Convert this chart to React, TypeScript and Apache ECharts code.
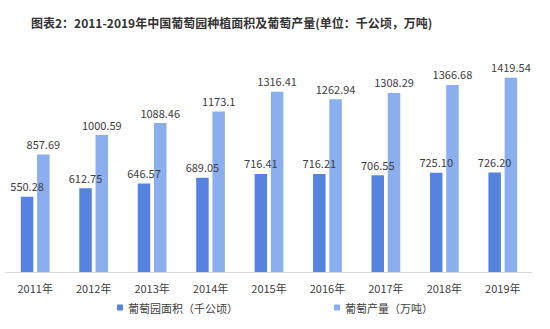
import React, { useEffect, useRef } from "react";
import * as echarts from "echarts";

const years = ["2011年", "2012年", "2013年", "2014年", "2015年", "2016年", "2017年", "2018年", "2019年"];
const areaValues = [550.28, 612.75, 646.57, 689.05, 716.41, 716.21, 706.55, 725.10, 726.20];
const areaLabels = ["550.28", "612.75", "646.57", "689.05", "716.41", "716.21", "706.55", "725.10", "726.20"];
const outputValues = [857.69, 1000.59, 1088.46, 1173.1, 1316.41, 1262.94, 1308.29, 1366.68, 1419.54];
const outputLabels = ["857.69", "1000.59", "1088.46", "1173.1", "1316.41", "1262.94", "1308.29", "1366.68", "1419.54"];
const seriesNames = ["葡萄园面积（千公顷）", "葡萄产量（万吨）"];
const title = "图表2：2011-2019年中国葡萄园种植面积及葡萄产量(单位：千公顷，万吨)";

export default function App() {
  const ref = useRef<HTMLDivElement>(null);
  useEffect(() => {
    if (!ref.current) return;
    const chart = echarts.init(ref.current, undefined, { renderer: "svg" });
    const font = "'Microsoft YaHei', 'Noto Sans CJK SC', sans-serif";
    chart.setOption({
      animation: false,
      title: {
        text: title,
        left: 26,
        top: 11,
        textStyle: { fontSize: 12, fontWeight: "bold", color: "#333", fontFamily: font },
      },
      legend: {
        bottom: 11,
        left: "center",
        itemWidth: 6,
        itemHeight: 6,
        itemGap: 96,
        icon: "rect",
        textStyle: { fontSize: 11, color: "#404040", fontFamily: font },
        data: seriesNames,
      },
      grid: { left: 6, right: 18, top: 53, bottom: 57, containLabel: false },
      xAxis: {
        type: "category",
        data: years,
        axisLine: { lineStyle: { color: "#d9d9d9" } },
        axisTick: { show: false },
        axisLabel: { fontSize: 11, color: "#404040", margin: 10, fontFamily: font },
      },
      yAxis: {
        type: "value",
        min: 0,
        max: 1600,
        show: false,
        splitLine: { show: false },
      },
      series: [
        {
          name: seriesNames[0],
          type: "bar",
          data: areaValues,
          barWidth: 12.5,
          barGap: "30%",
          itemStyle: { color: "#5683e0" },
          label: {
            show: true,
            position: "top",
            distance: 5,
            fontSize: 11,
            color: "#404040",
            fontFamily: font,
            formatter: (p: any) => areaLabels[p.dataIndex],
          },
        },
        {
          name: seriesNames[1],
          type: "bar",
          data: outputValues,
          barWidth: 12.5,
          itemStyle: { color: "#8aaeee" },
          label: {
            show: true,
            position: "top",
            distance: 5,
            fontSize: 11,
            color: "#404040",
            fontFamily: font,
            formatter: (p: any) => outputLabels[p.dataIndex],
          },
        },
      ],
    });
    return () => chart.dispose();
  }, []);
  return <div ref={ref} style={{ width: 550, height: 329, position: "absolute", left: 0, top: 0, background: "#fff" }} />;
}
